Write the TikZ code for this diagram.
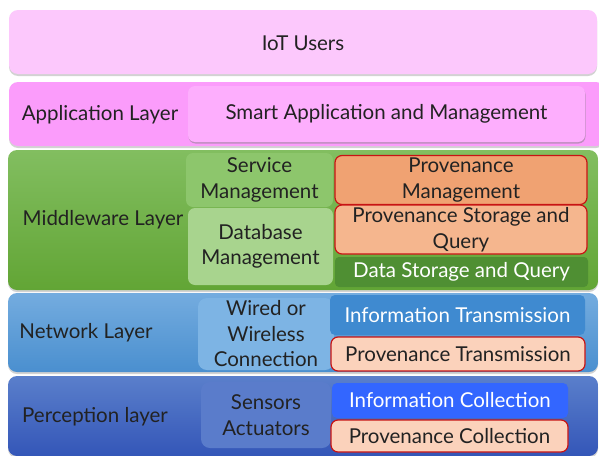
\documentclass[tikz,border=0pt]{standalone}
\usepackage{fontspec}
\setmainfont{Lato}
\usetikzlibrary{shadows}
\definecolor{usersc}{HTML}{FCC8FC}
\definecolor{appc}{HTML}{FB9CFB}
\definecolor{appin}{HTML}{FDAEFD}
\definecolor{midtop}{HTML}{82BE60}
\definecolor{midbot}{HTML}{62A535}
\definecolor{servc}{HTML}{8DC66C}
\definecolor{dbc}{HTML}{A8D48E}
\definecolor{provm}{HTML}{F0A272}
\definecolor{provs}{HTML}{F5B68E}
\definecolor{datac}{HTML}{4F8F33}
\definecolor{redb}{HTML}{C81414}
\definecolor{nettop}{HTML}{74ACDF}
\definecolor{netbot}{HTML}{4A8FCF}
\definecolor{wiredc}{HTML}{7DB4E4}
\definecolor{infotc}{HTML}{3F8AD0}
\definecolor{peachc}{HTML}{FBD2BB}
\definecolor{pertop}{HTML}{5A7FCB}
\definecolor{perbot}{HTML}{3456B8}
\definecolor{sensc}{HTML}{5A7CCB}
\definecolor{infocc}{HTML}{3366FF}
\definecolor{txt}{HTML}{222222}
\tikzset{
  band/.style={rounded corners=9pt, minimum width=#1, inner sep=0pt,
    drop shadow={shadow xshift=0pt, shadow yshift=-2pt, opacity=0.35}},
  box/.style={rounded corners=7pt, inner sep=0pt, align=center, text=txt,
    font=\fontsize{20.5}{25.5}\selectfont},
  prov/.style={box, draw=redb, line width=1.2pt},
  wtext/.style={text=white},
  lab/.style={text=txt, font=\fontsize{20.5}{25.5}\selectfont, anchor=center},
}
\begin{document}
\begin{tikzpicture}[x=1pt,y=-1pt]
\useasboundingbox (0,0) rectangle (599,455);
\fill[white] (0,0) rectangle (599,455);
% IoT users
\node[band=588pt, minimum height=64pt, fill=usersc] (users) at (303,42) {};
\node[lab] (userslab) at (303,43) {IoT Users};
% Application layer
\node[band=596pt, minimum height=64pt, fill=appc] (app) at (307,114) {};
\node[lab] (applab) at (100,115) {Application Layer};
\node[box, fill=appin, minimum width=397pt, minimum height=56pt,
  drop shadow={shadow xshift=0.5pt, shadow yshift=-1.5pt, opacity=0.5}] (smart) at (386.5,114) {Smart Application and Management};
% Middleware layer
\node[band=590pt, minimum height=140pt, top color=midtop, bottom color=midbot] (mid) at (303,220) {};
\node[lab] (midlab) at (103,220) {Middleware Layer};
\node[box, fill=servc, minimum width=147pt, minimum height=54pt] (serv) at (259.5,180) {Service\\Management};
\node[box, fill=dbc, minimum width=145pt, minimum height=77pt] (db) at (260.5,246.5) {Database\\Management};
\node[prov, fill=provm, minimum width=252pt, minimum height=49pt] (provm) at (461,180) {Provenance\\Management};
\node[prov, fill=provs, minimum width=252pt, minimum height=49pt] (provs) at (461,229.5) {Provenance Storage and\\Query};
\node[box, fill=datac, wtext, minimum width=253pt, minimum height=30pt, rounded corners=4pt] (data) at (461.5,272) {Data Storage and Query};
% Network layer
\node[band=590pt, minimum height=79pt, top color=nettop, bottom color=netbot] (net) at (303,332.5) {};
\node[lab] (netlab) at (86,333) {Network Layer};
\node[box, fill=wiredc, minimum width=136pt, minimum height=72pt, rounded corners=9pt] (wired) at (266,334) {Wired or\\Wireless\\Connection};
\node[box, fill=infotc, wtext, minimum width=255pt, minimum height=40pt, rounded corners=5pt] (infot) at (457.5,315) {Information Transmission};
\node[prov, fill=peachc, minimum width=254pt, minimum height=34pt] (provt) at (458,354) {Provenance Transmission};
% Perception layer
\node[band=590pt, minimum height=80pt, top color=pertop, bottom color=perbot] (per) at (303,416) {};
\node[lab] (perlab) at (95,417) {Perception layer};
\node[box, fill=sensc, minimum width=130pt, minimum height=66pt, rounded corners=9pt] (sens) at (266,415) {Sensors\\Actuators};
\node[box, fill=infocc, wtext, minimum width=236pt, minimum height=35pt, rounded corners=5pt] (infoc) at (450,400.5) {Information Collection};
\node[prov, fill=peachc, minimum width=237pt, minimum height=32pt] (provc) at (449.5,436) {Provenance Collection};
\end{tikzpicture}
\end{document}
